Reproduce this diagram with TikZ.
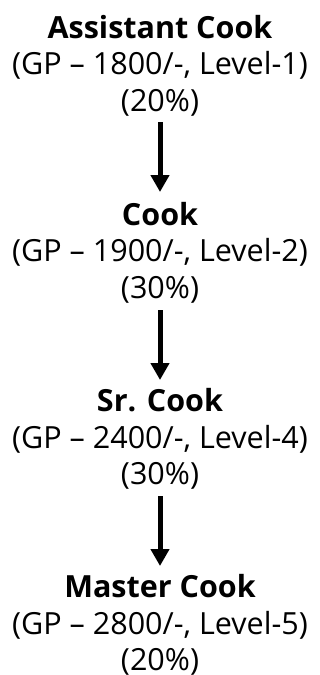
\documentclass[tikz,border=0pt]{standalone}
\usepackage{fontspec}
\setmainfont{Open Sans}
\usetikzlibrary{arrows.meta}
\begin{document}
\begin{tikzpicture}[x=1pt,y=1pt,
  block/.style={align=center,inner sep=0pt,font=\fontsize{30.5}{36.5}\selectfont},
  arr/.style={line width=5pt,-{Triangle[width=18pt,length=17pt]}}]
\useasboundingbox (0,0) rectangle (320,-675);
\node[block] (b1) at (160,-65.5) {\textbf{Assistant Cook}\\(GP – 1800/-, Level-1)\\(20\%)};
\node[block] (b2) at (160,-252.5) {\textbf{Cook}\\(GP – 1900/-, Level-2)\\(30\%)};
\node[block] (b3) at (160,-439) {\textbf{Sr. Cook}\\(GP – 2400/-, Level-4)\\(30\%)};
\node[block] (b4) at (160,-625) {\textbf{Master Cook}\\(GP – 2800/-, Level-5)\\(20\%)};
\coordinate (a1s) at (160,-122); \coordinate (a1e) at (160,-192);
\coordinate (a2s) at (160,-310); \coordinate (a2e) at (160,-380);
\coordinate (a3s) at (160,-496); \coordinate (a3e) at (160,-566);
\draw[arr] (a1s) -- (a1e);
\draw[arr] (a2s) -- (a2e);
\draw[arr] (a3s) -- (a3e);
\end{tikzpicture}
\end{document}
